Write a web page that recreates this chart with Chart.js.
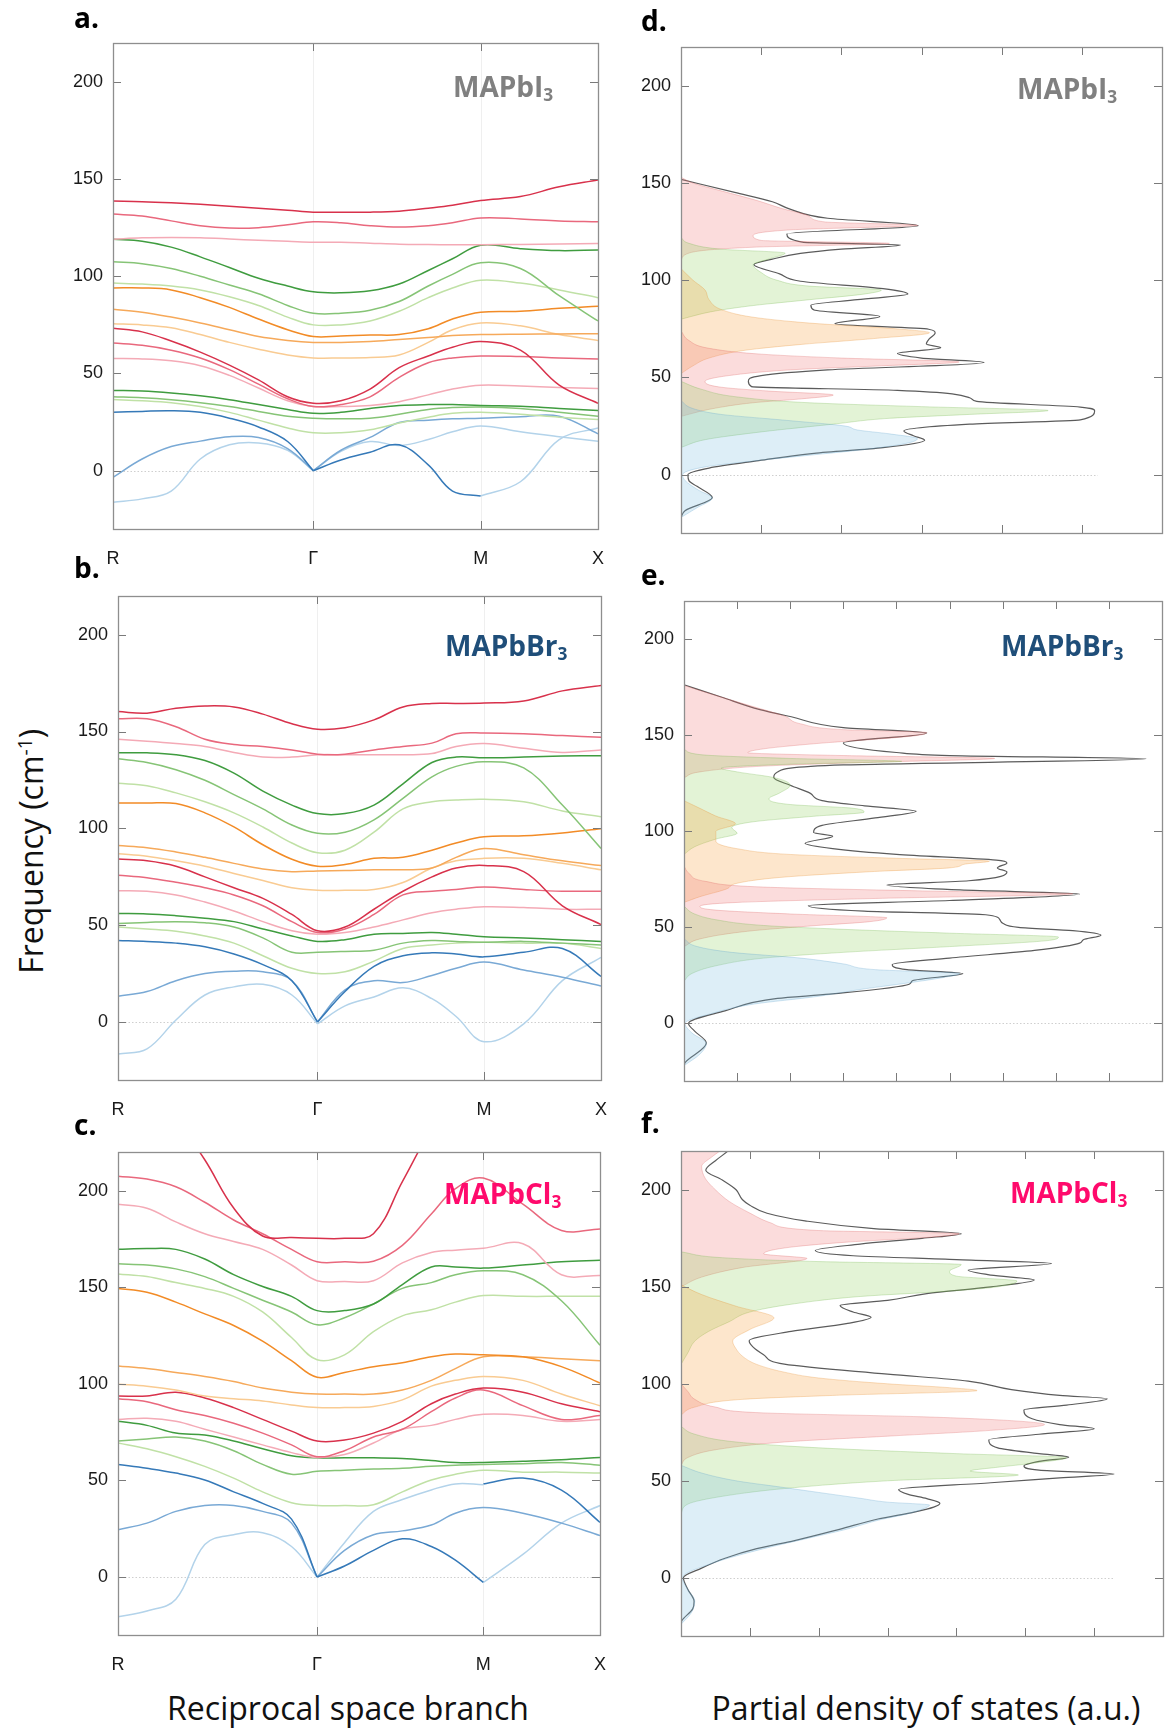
<!DOCTYPE html>
<html>
<head>
<meta charset="utf-8">
<script src="https://cdn.jsdelivr.net/npm/chart.js@4.4.1/dist/chart.umd.min.js"></script>
<style>
  html, body { margin: 0; padding: 0; background: #fff; overflow: hidden; }
  #page { position: relative; width: 1168px; height: 1733px; }
  canvas { position: absolute; }
  .txt { position: absolute; white-space: nowrap; line-height: 1; z-index: 5; }
  .letter { font-family: "Open Sans", sans-serif; font-weight: 700; font-size: 28px; color: #000; }
  .comp { font-family: "Open Sans", sans-serif; font-weight: 700; font-size: 28px; }
  .comp sub { font-size: 0.62em; vertical-align: -0.25em; }
  .title { font-family: "Open Sans", sans-serif; font-size: 32px; color: #111; }
</style>
</head>
<body>
<div id="page">
  <canvas id="dispI"></canvas>
  <canvas id="dispBr"></canvas>
  <canvas id="dispCl"></canvas>
  <canvas id="dosI"></canvas>
  <canvas id="dosBr"></canvas>
  <canvas id="dosCl"></canvas>

  <div class="txt letter" style="left:74px; top:3px;">a.</div>
  <div class="txt letter" style="left:74px; top:553px;">b.</div>
  <div class="txt letter" style="left:74px; top:1110px;">c.</div>
  <div class="txt letter" style="left:641px; top:6px;">d.</div>
  <div class="txt letter" style="left:641px; top:560px;">e.</div>
  <div class="txt letter" style="left:641px; top:1108px;">f.</div>

  <div class="txt comp" style="left:453px; top:72px; color:#808080;">MAPbI<sub>3</sub></div>
  <div class="txt comp" style="left:445px; top:631px; color:#1f4e79;">MAPbBr<sub>3</sub></div>
  <div class="txt comp" style="left:444px; top:1179px; color:#ff0a6c;">MAPbCl<sub>3</sub></div>
  <div class="txt comp" style="left:1017px; top:74px; color:#808080;">MAPbI<sub>3</sub></div>
  <div class="txt comp" style="left:1001px; top:631px; color:#1f4e79;">MAPbBr<sub>3</sub></div>
  <div class="txt comp" style="left:1010px; top:1178px; color:#ff0a6c;">MAPbCl<sub>3</sub></div>

  <div class="txt title" style="left:-119px; top:835px; width:300px; text-align:center; transform:rotate(-90deg);">Frequency (cm<sup style="font-size:0.6em;">-1</sup>)</div>
  <div class="txt title" style="left:148px; top:1692px; width:400px; text-align:center;">Reciprocal space branch</div>
  <div class="txt title" style="left:696px; top:1692px; width:460px; text-align:center;">Partial density of states (a.u.)</div>
</div>

<script>
// ---- dispersion: path positions (R -> Gamma -> M -> X, normalised) ----
const kGrid = [0, 0.06, 0.12, 0.18, 0.24, 0.30, 0.36, 0.413, 0.47, 0.53, 0.59, 0.65, 0.70, 0.758, 0.84, 0.92, 1.0];
const kStops = [0, 0.413, 0.758, 1];
const kLabels = ['R', 'Γ', 'M', 'X'];
const freqTicks = [0, 50, 100, 150, 200];
const _ = null;

// MAPbI3 phonon branches (cm-1) sampled on kGrid
const bandsI = [
  [138.7,138.4,137.8,137,136,135,134,133,133,133,133.5,135,136.5,139,141,146,149.5],
  [132,131,128.5,126,124.8,125,126.5,128,127.5,126,125.3,126,127.5,130,129.5,128.5,128],
  [119,119.8,120,119.8,119.2,118.5,118,117.5,117.5,117,116.5,116.3,116.2,116.2,116.4,116.6,116.8],
  [119,118,115,110,104.5,99,95,92,91.5,92.5,96,103,109,116,114.2,113.2,113.5],
  [107.5,106.5,104,100,95.5,91,85,81,81,82.5,87,95,101,107,104,90,77],
  [96.5,96,95,93,89.5,85,79,75,75,77,82,89,94,98,96.5,93,89],
  [94,94,93,89,84,78,72.5,69,69.3,69.8,70,73,78,81.5,82,83.5,84.6],
  [83,81.5,79,76,72.5,69,67,66,66,66.5,67.5,68.5,69.5,70,70.2,70.3,70.5],
  [75.6,75,73.5,70,66,62.5,59.5,58,58,58.2,59.5,66,72.5,76,74.5,70,67],
  [73.3,71.4,66.7,61,54.3,46.7,38,34.7,36,42,53,59,63.5,66.5,62,44,34.7],
  [65.7,64.5,62,58,52,44.5,37,33,34,38,48,55.5,58,59,58.7,58,57.5],
  [57.7,57.5,56.5,54,49,42.5,36,33,33,33.5,35.5,39,42,44,43.5,42.8,42.3],
  [41.3,41,40,38.5,36.5,34,31.5,29.5,30,32,33.5,34,34,33.5,33.2,32,31],
  [38,37.5,36.5,35,33,30.5,28,27,26.7,27,29,31.5,32.5,32.8,32,30,28],
  [36.6,36,35,33,30,26,22,19.5,19.5,21,24.5,27.5,29.5,30,29,27.5,26.3],
  [30,30.5,30.8,30,27,22.5,15,0,5.5,9.5,13.3,3,-10.5,-13,_,_,_],
  [-3.4,6,12.4,15.2,17.5,17.1,11.4,0,10.5,17.1,24.8,26,26.7,27,27.8,28,19],
  [-16.2,-14.5,-10.5,6,13.3,14.3,10.5,0,10,15,13,16,20,23,20,17.5,15.2],
  [_,_,_,_,_,_,_,_,_,_,_,_,_,-13,-5.7,16,22]
];
const tonesI = ['redD','redM','pinkL','greenD','greenM','greenL','orangeD','orangeM','orangeL',
  'redD','redM','pinkL','greenD','greenM','greenL','blueD','blueM','blueL','blueL'];

// MAPbBr3
const bandsBr = [
  [160.3,159.5,162,163.2,162.7,159,154,151.2,152,156,162.7,164.5,164.5,164.7,165.8,171,173.8],
  [156.6,156.6,152.5,146,143.3,142.3,140.5,138.3,138.3,140.5,142.3,144,148.8,149.2,148.8,147.9,147],
  [146,145,143.8,142.3,139.2,136.8,136.8,138,138,138,138,138.6,142.3,143.8,141.4,139.2,140.5],
  [139,139,138,135,128.5,119.2,112,107.6,107.6,112,123,134,136.8,136.4,136.8,137.3,137.5],
  [135.9,134,130.3,124.8,117.4,110,101.7,97.4,98,104.4,115.5,126.6,132,134.4,131.2,112,89.6],
  [123.3,122,118.3,113.7,108,100.7,92.4,87.4,88.7,98,110,113.7,114.6,115,113.7,109,106],
  [113.1,113.1,112.8,108,100.7,91.5,84,80.4,81.3,84.5,85,88.7,92.4,95.6,96.1,97.6,99.8],
  [91.1,90,87.8,85,81.9,79,77.6,78,78.2,78.6,78.6,79.5,85,89.6,86.3,83.2,80.8],
  [86.9,85.6,83.2,80.4,76.7,73,69.3,68,68,68.4,72,79.5,83.2,84.5,84.5,81.9,78.6],
  [84.1,83.2,80.4,74.9,69.3,63.8,55.5,47.1,49,58.2,67.5,74.9,79.5,80.8,77.6,60,50.3],
  [75.8,74.5,72.1,69.3,65.6,60,51.8,46.2,48,55.5,65.6,67.5,68.4,69.7,68.4,67.5,67.5],
  [67.8,67.5,65.6,61.9,57.3,51.8,47.1,45.3,46.2,49,52.7,56.4,58.2,59.5,59.1,58.2,58.2],
  [56,55.8,54.9,53.6,51.8,48,44.4,41.6,42.5,45.3,45.7,46.2,45.3,44,43.4,42.5,41.6],
  [50.8,51.4,51.8,51.2,49,43.4,36,36,36.4,37,40.7,42,41.6,41.2,41.6,40.7,39.7],
  [49,48,46.8,44.4,40.7,34.2,27.7,25,25.9,31.4,37.9,39.7,40.7,41.2,40.7,40.7,37.9],
  [42.1,41.6,40.7,38.8,35.1,29.6,21.3,0,15.7,28.7,34.2,35.7,35.1,33.6,36,37.9,23.5],
  [13.3,15.7,21.3,25,26.2,25.9,21.3,0,16.6,21.3,20.3,24,27.7,30.9,26.8,23.1,18.5],
  [-16.6,-13.9,1,13.9,18.1,19.4,13.9,-1,8.3,12.9,17.6,12,2.8,-10.2,-1,21.3,33.3]
];
const tonesBr = tonesI.slice(0, 18);

// MAPbCl3
const bandsCl = [
  [270,255,237,216,191,176.5,175.7,175.3,175.3,177.7,204.7,232,250,258,250,240,235],
  [207.5,206,202,194,184.8,177.7,169.6,163.2,163.2,163.5,171.7,187.9,201,206.5,193,179.4,180.2],
  [192.9,190.9,183.8,177.7,173.7,169.6,161.5,153.4,153,153.4,162.6,168,169.2,170.2,172.5,156.5,156.1],
  [169.6,170,169.6,164.6,156.5,150.4,145.3,137.9,137.9,141.3,151.4,160.5,160.5,159.9,161.5,163.2,164],
  [162.1,161.5,159.5,155.5,149.4,143.3,137.2,130.6,134.2,141.3,149.4,152.4,156.5,158.5,156.5,143,120],
  [156.9,155.5,152.4,149.4,145.3,137.2,124,112.5,115,127,135.2,138.3,142.3,145.7,145.3,145.3,145.3],
  [149.4,147.4,142.3,136.2,130.2,122.1,112,103.4,105.9,108.9,110.9,114,115.4,115,114,108.9,100.4],
  [109.3,107.9,105.9,103.8,101.2,97.8,95.7,94.7,94.7,94.7,96.8,101.8,107.9,114,114,113,111.9],
  [99.8,98.8,96.8,93.7,92.3,91.1,89.1,87.7,87.7,88.3,91.7,98.8,101.8,103.8,101.8,94.7,88.7],
  [93.7,93.7,95.7,92.7,87.7,81.6,75.5,70.4,70.9,74.5,80.6,89.7,94.7,97.8,95.7,89.7,85.6],
  [92.3,90.7,86.6,83.6,79.6,74.5,68.4,62.3,65.4,72.5,76.5,85.6,92.7,96.8,88.7,81.6,83.6],
  [81.6,82.2,80.6,76.5,72.5,68.4,64.4,61.9,63.4,69.4,76.5,78.5,81.6,84.2,83.6,80.6,81.6],
  [80.6,78.5,74.5,73.5,70.4,66.4,62.8,61.7,61.7,61.7,61.3,60.3,59.3,59.3,59.9,60.7,61.9],
  [70.4,71.5,72.5,70.4,65.4,58.3,53.2,54.7,55.3,55.9,56.3,57.3,57.9,58.3,58.7,59.3,57.9],
  [69.4,66.4,62.3,57.3,51.2,44.1,38.5,37,37,37.4,44.1,50.2,53.2,55.3,54.3,54.3,53.8],
  [58.3,56.3,53.8,50.2,44.1,38.1,30,0,5.7,13.8,19.8,15.8,8.7,-2.8,_,_,_],
  [24.5,27.9,34,37,37,34,27.9,0,13.8,21.9,23.9,26.9,33,36,33,27.9,21.5],
  [-20.6,-17.6,-11.5,16.8,21.9,22.9,15.8,0,17.8,34,40.1,45.1,48.2,47.8,_,_,_],
  [_,_,_,_,_,_,_,_,_,_,_,_,_,48.2,51.2,45,28.3],
  [_,_,_,_,_,_,_,_,_,_,_,_,_,-2.8,11.7,27.9,37]
];
const tonesCl = tonesI.slice(0, 18).concat(['blueD', 'blueL']);

// ---- partial density of states: [frequency, dos] ----
const dosI_blue = [[-22,0],[-17,0.2],[-12,0.39],[-8,0.22],[-3,0.05],[0,0.02],[4,0.3],[7,0.9],[10,1.6],[13,2.3],[16,2.8],[18.5,2.95],[21,2.6],[23,2.2],[25,2.05],[28,1.3],[31,0.5],[34,0.15],[38,0]];
const dosI_greenLo = [[14,0],[18,0.3],[22,1.0],[26,1.9],[29,2.6],[31,3.6],[33,4.58],[35,3.0],[37,1.6],[40,0.7],[44,0.25],[48,0]];
const dosI_pinkLo = [[30,0],[34,0.4],[37,0.9],[39,1.5],[41,1.9],[43,1.1],[45,0.5],[48,0.3],[51,0.6],[54,1.4],[56,2.5],[58,3.47],[60,2.0],[62,1.0],[65,0.35],[69,0.1],[74,0]];
const dosI_orange = [[52,0],[56,0.15],[60,0.35],[64,0.8],[67,1.5],[70,2.4],[73,3.1],[75,2.7],[78,1.6],[81,0.9],[85,0.5],[90,0.35],[95,0.3],[100,0.15],[106,0]];
const dosI_greenHi = [[80,0],[84,0.4],[87,0.9],[90,1.6],[93,2.3],[95,2.5],[97,1.6],[100,1.2],[104,1.0],[108,0.9],[111,1.1],[114,1.3],[116,0.5],[119,0.1],[122,0]];
const dosI_pinkHi = [[110,0],[114,0.1],[117,0.9],[119,2.6],[120.5,1.0],[123,0.9],[126,1.4],[128.3,2.95],[130,1.8],[133,1.6],[137,1.25],[141,0.95],[146,0.5],[150,0.15],[153,0]];
const dosI_total = [[-22,0],[-18.5,0.05],[-11.8,0.39],[-6,0.2],[-3.2,0.1],[0,0.086],[3.4,0.35],[7.2,0.97],[11,1.66],[13.9,2.52],[17.7,3.04],[20,2.9],[22.5,2.78],[26,3.6],[28.2,4.98],[32.9,5.16],[34.8,4.98],[37.7,3.69],[39.6,3.6],[43.4,2.7],[45.3,0.88],[48.1,0.84],[51,1.0],[53.9,1.83],[57.7,3.78],[60,3.0],[62.4,2.7],[65.3,3.24],[67.2,3.06],[70,3.1],[72.9,3.17],[74.8,3.09],[77.6,1.92],[81.4,2.48],[84.7,1.66],[87.2,1.62],[90,2.2],[92.9,2.83],[95.7,2.52],[99.5,1.49],[103.3,1.23],[108.1,0.91],[110.9,1.14],[113.8,1.49],[116,2.0],[118.2,2.74],[119.5,1.53],[123.9,1.32],[128.1,2.96],[131.9,1.83],[136.6,1.36],[140.4,1.14],[145.2,0.67],[151.9,0]];

const dosBr_blue = [[-22,0],[-16,0.3],[-10.5,0.42],[-5,0.15],[0,0.02],[5,0.5],[10,1.3],[14,2.5],[18,3.4],[21,4.2],[24,4.9],[26,5.19],[28,3.6],[31,3.0],[34,2.2],[37,0.9],[40,0.25],[44,0]];
const dosBr_greenLo = [[22,0],[26,0.15],[30,0.6],[34,1.5],[37,3.0],[40,5.0],[43,6.8],[45,7.05],[47,5.0],[49,3.0],[51,1.5],[54,0.6],[57,0.2],[61,0]];
const dosBr_pinkLo = [[40,0],[44,0.3],[48,1.2],[51,2.5],[53,3.5],[55,3.82],[57,2.0],[59,0.6],[61,0.3],[63,1.0],[65,3.5],[67.5,7.32],[69,4.5],[71,1.5],[74,0.4],[78,0.1],[82,0]];
const dosBr_orange = [[63,0],[66,0.3],[70,0.8],[73,1.0],[76,1.8],[79,3.5],[81,5.0],[83,5.3],[84.5,5.75],[86,4.0],[88,2.0],[91,1.0],[95,0.6],[100,0.6],[104,0.97],[108,0.6],[112,0.3],[116,0]];
const dosBr_greenHi = [[88,0],[92,0.2],[96,0.6],[99,1.0],[102,0.9],[105,1.3],[108,2.5],[110,3.39],[112,3.2],[114,2.0],[117,1.6],[120,1.8],[124,2.0],[128,1.7],[131,1.0],[133,0.7],[135,2.0],[136.5,4.1],[138,2.0],[140,0.3],[143,0]];
const dosBr_pinkHi = [[128,0],[131,0.3],[134,1.5],[136,3.5],[138,5.85],[139.5,3.0],[141,1.2],[143,1.5],[146,2.6],[148,3.6],[150,4.4],[151.5,4.57],[153,3.0],[156,2.2],[160,1.9],[165,1.3],[170,0.7],[176,0]];
const dosBr_total = [[-22,0],[-20.4,0.02],[-10.2,0.42],[-4,0.2],[0,0.085],[6.5,0.77],[13,1.76],[15.2,2.74],[20.4,4.24],[22.3,4.31],[26,5.25],[28,4.2],[30.6,3.92],[34,5.0],[38,6.6],[41.8,7.45],[43.6,7.52],[45.9,7.85],[48.3,7.32],[50,6.3],[52,6.01],[53.9,5.95],[56.6,5.68],[58.5,3.39],[61.3,2.34],[64,5.0],[67.4,7.45],[69.5,5.2],[72.1,3.82],[74.3,5.36],[78.9,6.08],[81,5.9],[83.6,6.08],[85,5.88],[88,4.0],[91,2.8],[93.8,2.28],[97.5,2.8],[99.4,2.44],[103.1,2.6],[107,3.6],[110.5,4.37],[113.3,3.4],[116,2.6],[119.8,2.38],[124,2.0],[128.1,1.69],[130.9,1.76],[134.6,3.0],[137.8,8.7],[139.5,5.0],[141.1,4.0],[146.1,3.0],[151.3,4.57],[154.1,3.0],[159.7,2.02],[163.4,1.43],[170,0.7],[176.4,0]];

const dosCl_blue = [[-24,0],[-18,0.15],[-12,0.2],[-6,0.1],[0,0.02],[8,0.5],[15,1.2],[20,1.8],[25,2.4],[30,2.9],[33,3.3],[36,3.55],[37.5,3.61],[39,3.0],[41,2.6],[44,2.0],[47,1.4],[50,0.8],[54,0.3],[58,0]];
const dosCl_greenLo = [[33,0],[38,0.1],[42,0.6],[46,1.5],[50,3.0],[53,4.9],[55,4.2],[57,4.6],[59,5.1],[62,5.6],[64,4.0],[67,2.0],[70,0.8],[74,0.2],[78,0]];
const dosCl_pinkLo = [[58,0],[62,0.1],[66,0.5],[70,1.5],[73,3.0],[76,4.5],[79,5.28],[81,4.8],[83,3.5],[85,1.2],[88,0.5],[92,0.2],[96,0.1],[100,0]];
const dosCl_orange = [[84,0],[88,0.2],[92,0.9],[94,2.2],[96.5,4.3],[98,3.9],[100,3.0],[103,2.0],[106,1.5],[110,1.1],[114,0.9],[118,0.8],[122,0.75],[128,1.0],[134,1.35],[140,0.8],[146,0.3],[151,0]];
const dosCl_greenHi = [[110,0],[116,0.1],[122,0.2],[127,0.4],[132,0.7],[137,1.0],[141,1.6],[145,2.6],[148,4.0],[150,4.6],[153,4.88],[155.5,4.0],[158,3.9],[161.5,4.07],[163,2.0],[165,0.6],[168,0]];
const dosCl_pinkHi = [[150,0],[155,0.3],[160,0.9],[164.6,1.83],[167,1.2],[170,1.5],[173,2.4],[175.5,3.6],[177.4,4.04],[179,2.0],[183,1.3],[188,1.0],[194,0.7],[200,0.5],[206,0.35],[212,0.3],[217,0.45],[222,0.65]];
const dosCl_total = [[-24,0],[-22.2,0.01],[-16,0.17],[-12.1,0.19],[-6,0.1],[0,0.035],[5,0.3],[10.1,0.64],[15,1.1],[19.2,1.65],[25,2.3],[30.3,2.86],[34,3.4],[36.4,3.67],[38.4,3.76],[40.8,3.57],[43,3.3],[45.5,3.16],[49,4.5],[51.5,5.5],[53.5,6.29],[55.5,5.2],[57.6,4.98],[60,5.2],[62.2,5.63],[64,5.2],[67,4.6],[71.1,4.47],[74,5.2],[76.8,6.0],[79,5.5],[82,5.1],[86.5,4.98],[89,5.6],[92.3,6.19],[94,5.5],[97,4.8],[101.4,4.17],[105,3.0],[110.1,1.5],[115,1.2],[122.2,0.99],[127,1.6],[131,2.4],[134.3,2.76],[137,2.5],[140.4,2.31],[143,3.0],[146.5,3.57],[150,4.5],[153.5,5.13],[156,4.5],[158.6,4.17],[162,5.38],[164,4.0],[166,2.5],[168.7,1.95],[172,2.6],[175,3.5],[177.4,4.07],[180,2.8],[184,1.8],[187.9,1.25],[192,1.0],[195,0.89],[200,0.8],[205,0.6],[210.1,0.36],[215,0.5],[220.2,0.69],[224,0.8]];

const partTones = ['blue', 'green', 'pink', 'orange', 'green', 'pink'];

// ---- styles ----
const lineColors = {
  redD: '#d8314b', redM: '#e9687d', pinkL: '#f4aab6',
  greenD: '#3f9c3f', greenM: '#86c476', greenL: '#c0e1a6',
  orangeD: '#f28b26', orangeM: '#f6a95a', orangeL: '#f9cb92',
  blueD: '#3579b8', blueM: '#79a9d5', blueL: '#b3d3ea'
};
const fillColors = {
  blue: 'rgba(119,187,223,0.25)', green: 'rgba(143,207,91,0.25)',
  pink: 'rgba(239,115,115,0.25)', orange: 'rgba(247,155,51,0.25)'
};
const edgeColors = {
  blue: 'rgba(90,160,205,0.35)', green: 'rgba(110,180,70,0.35)',
  pink: 'rgba(220,90,90,0.35)', orange: 'rgba(230,140,40,0.35)'
};
const tickFont = { family: '"Liberation Sans", Arial, sans-serif', size: 18 };

// frame, inward tick marks and faint guide lines
const panelFrame = {
  id: 'panelFrame',
  beforeDatasetsDraw(chart, args, opts) {
    const { ctx, chartArea: a, scales: { x, y } } = chart;
    ctx.save();
    ctx.lineWidth = 1;
    (opts.guides || []).forEach(v => {
      const px = Math.round(x.getPixelForValue(v)) + 0.5;
      ctx.strokeStyle = '#efefef';
      ctx.beginPath(); ctx.moveTo(px, a.top); ctx.lineTo(px, a.bottom); ctx.stroke();
    });
    const y0 = Math.round(y.getPixelForValue(0)) + 0.5;
    const xEnd = opts.zeroTo != null ? x.getPixelForValue(opts.zeroTo) : a.right;
    ctx.strokeStyle = '#cfcfcf';
    ctx.setLineDash([1.5, 2]);
    ctx.beginPath(); ctx.moveTo(a.left, y0); ctx.lineTo(xEnd, y0); ctx.stroke();
    ctx.restore();
  },
  afterDraw(chart, args, opts) {
    const { ctx, chartArea: a, scales: { x, y } } = chart;
    const len = 8;
    ctx.save();
    ctx.strokeStyle = '#7a7a7a';
    ctx.lineWidth = 1;
    freqTicks.forEach(v => {
      const py = Math.round(y.getPixelForValue(v)) + 0.5;
      ctx.beginPath();
      ctx.moveTo(a.left, py); ctx.lineTo(a.left + len, py);
      ctx.moveTo(a.right, py); ctx.lineTo(a.right - len, py);
      ctx.stroke();
    });
    (opts.xTicks || []).forEach(v => {
      const px = Math.round(x.getPixelForValue(v)) + 0.5;
      ctx.beginPath();
      ctx.moveTo(px, a.top); ctx.lineTo(px, a.top + len);
      ctx.moveTo(px, a.bottom); ctx.lineTo(px, a.bottom - len);
      ctx.stroke();
    });
    ctx.strokeStyle = '#8e8e8e';
    ctx.lineWidth = 1.3;
    ctx.strokeRect(Math.round(a.left) + 0.5, Math.round(a.top) + 0.5,
      Math.round(a.right - a.left), Math.round(a.bottom - a.top));
    ctx.restore();
  }
};

function place(id, box, pad, axisW, axisH) {
  const c = document.getElementById(id);
  const left = box.left - axisW - pad.left;
  const top = box.top - pad.top;
  c.width = box.right + pad.right - left;
  c.height = box.bottom + axisH + pad.bottom - top;
  c.style.left = left + 'px';
  c.style.top = top + 'px';
  return c;
}

function freqAxis() {
  return {
    type: 'linear', min: -30, max: 220,
    grid: { display: false, drawTicks: false }, border: { display: false },
    afterBuildTicks: s => { s.ticks = freqTicks.map(v => ({ value: v })); },
    ticks: { font: tickFont, color: '#1a1a1a', padding: 10 },
    afterFit: s => { s.width = 60; }
  };
}

// acoustic branches meet at Gamma in a cusp: draw them as two pieces
function bandPieces(vals) {
  const g = kGrid.indexOf(kStops[1]);
  const pts = vals.map((v, j) => ({ x: kGrid[j], y: v }));
  if (vals[g] !== null && vals[g] <= 0) {
    return [pts.slice(0, g + 1), pts.slice(g)];
  }
  return [pts];
}

function makeDispersion(id, box, bands, tones) {
  const pad = { left: 0, top: 24, right: 30, bottom: 0 };
  const canvas = place(id, box, pad, 60, 45);
  const datasets = [];
  bands.forEach((vals, i) => {
    bandPieces(vals).forEach(piece => {
      datasets.push({
        data: piece,
        borderColor: lineColors[tones[i]],
        borderWidth: 1.5,
        pointRadius: 0,
        fill: false,
        spanGaps: false,
        tension: 0.38
      });
    });
  });
  new Chart(canvas, {
    type: 'line',
    data: { datasets },
    options: {
      responsive: false, animation: false, events: [],
      layout: { padding: pad },
      plugins: {
        legend: { display: false }, tooltip: { enabled: false },
        panelFrame: { xTicks: [kStops[1], kStops[2]], guides: [kStops[1], kStops[2]] }
      },
      scales: {
        x: {
          type: 'linear', min: 0, max: 1,
          grid: { display: false, drawTicks: false }, border: { display: false },
          afterBuildTicks: s => { s.ticks = kStops.map(v => ({ value: v })); },
          ticks: { callback: (v, i) => kLabels[i], font: tickFont, color: '#1a1a1a',
                   padding: 19, maxRotation: 0, autoSkip: false },
          afterFit: s => { s.height = 45; }
        },
        y: freqAxis()
      }
    },
    plugins: [panelFrame]
  });
}

function makeDos(id, box, parts, total, dosMax, zeroTo) {
  const pad = { left: 0, top: 24, right: 4, bottom: 24 };
  const canvas = place(id, box, pad, 60, 0);
  const datasets = parts.map((pts, i) => ({
    data: pts.map(p => ({ x: p[1], y: p[0] })),
    backgroundColor: fillColors[partTones[i]],
    borderColor: edgeColors[partTones[i]],
    borderWidth: 0.8,
    pointRadius: 0,
    fill: 'origin',
    cubicInterpolationMode: 'monotone'
  }));
  datasets.push({
    data: total.map(p => ({ x: p[1], y: p[0] })),
    borderColor: '#5b5b5b', borderWidth: 1.2, pointRadius: 0, fill: false,
    cubicInterpolationMode: 'monotone'
  });
  const inner = [];
  for (let v = 1; v < dosMax; v++) inner.push(v);
  new Chart(canvas, {
    type: 'line',
    data: { datasets },
    options: {
      indexAxis: 'y',
      responsive: false, animation: false, events: [],
      layout: { padding: pad },
      plugins: {
        legend: { display: false }, tooltip: { enabled: false },
        panelFrame: { xTicks: inner, zeroTo: zeroTo }
      },
      scales: {
        x: {
          type: 'linear', min: 0, max: dosMax,
          grid: { display: false, drawTicks: false }, border: { display: false },
          ticks: { display: false },
          afterFit: s => { s.height = 0; }
        },
        y: freqAxis()
      }
    },
    plugins: [panelFrame]
  });
}

makeDispersion('dispI', { left: 113, right: 598, top: 43, bottom: 529 }, bandsI, tonesI);
makeDispersion('dispBr', { left: 118, right: 601, top: 596, bottom: 1080 }, bandsBr, tonesBr);
makeDispersion('dispCl', { left: 118, right: 600, top: 1152, bottom: 1635 }, bandsCl, tonesCl);

makeDos('dosI', { left: 681, right: 1162, top: 47, bottom: 533 },
  [dosI_blue, dosI_greenLo, dosI_pinkLo, dosI_orange, dosI_greenHi, dosI_pinkHi], dosI_total, 6, 5.2);
makeDos('dosBr', { left: 684, right: 1162, top: 601, bottom: 1081 },
  [dosBr_blue, dosBr_greenLo, dosBr_pinkLo, dosBr_orange, dosBr_greenHi, dosBr_pinkHi], dosBr_total, 9, 8.8);
makeDos('dosCl', { left: 681, right: 1163, top: 1151, bottom: 1636 },
  [dosCl_blue, dosCl_greenLo, dosCl_pinkLo, dosCl_orange, dosCl_greenHi, dosCl_pinkHi], dosCl_total, 7, 6.3);
</script>
</body>
</html>
